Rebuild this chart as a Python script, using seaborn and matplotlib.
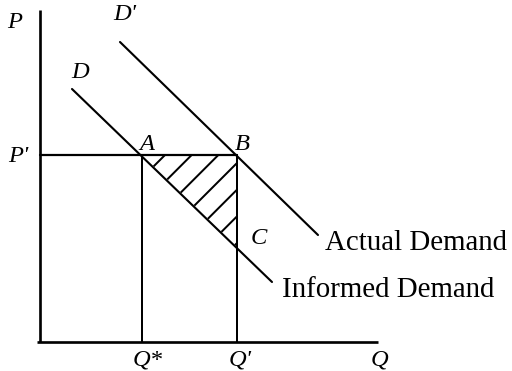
import matplotlib
matplotlib.use("Agg")
import matplotlib.pyplot as plt
import seaborn as sns
import pandas as pd
from matplotlib.patches import Polygon

# ---- data (Q, P coordinates of the diagram) ----
informed_q = [32, 232]
informed_p = [253, 60]
actual_q = [80, 278]
actual_p = [300, 107]
p_prime = 187
q_star = 102
q_prime = 197
slope = (informed_p[1] - informed_p[0]) / (informed_q[1] - informed_q[0])
p_c = p_prime + slope * (q_prime - q_star)

axis_q_max = 338
axis_p_max = 332

labels = ["P", "D'", "D", "P'", "A", "B", "C", "Q*", "Q'", "Q"]
label_q = [-25, 85, 40, -22, 107, 202, 219, 108, 200, 340]
label_p = [320, 327, 270, 185, 198, 198, 103, -18, -18, -18]

curve_names = ["Actual Demand", "Informed Demand"]
curve_label_q = [285, 242]
curve_label_p = [99, 52]

sns.set_theme(style="white")
plt.rcParams["font.family"] = ["Liberation Serif", "DejaVu Serif"]

fig = plt.figure(figsize=(6.4, 4.6375), dpi=80)
ax = fig.add_axes([0, 0, 1, 1])
ax.set_xlim(-40, 472)
ax.set_ylim(-29, 342)
ax.axis("off")

df = pd.DataFrame({
    "Q": informed_q + actual_q,
    "P": informed_p + actual_p,
    "curve": ["informed"] * 2 + ["actual"] * 2,
})
sns.lineplot(data=df, x="Q", y="P", units="curve", estimator=None,
             color="black", linewidth=1.9, ax=ax, legend=False)

# axes
ax.plot([0, 0], [0, axis_p_max], color="black", lw=2.4, solid_capstyle="butt")
ax.plot([-3, axis_q_max], [0, 0], color="black", lw=2.4, solid_capstyle="butt")

# P' horizontal and verticals
ax.plot([0, q_prime], [p_prime, p_prime], color="black", lw=2.0)
ax.plot([q_star, q_star], [0, p_prime], color="black", lw=1.8)
ax.plot([q_prime, q_prime], [0, p_prime], color="black", lw=1.8)

# hatched triangle ABC
plt.rcParams["hatch.linewidth"] = 1.8
tri = Polygon([(q_star, p_prime), (q_prime, p_prime), (q_prime, p_c)],
              closed=True, facecolor="none", edgecolor="black",
              hatch="/", linewidth=0)
ax.add_patch(tri)

for t, x, y in zip(labels, label_q, label_p):
    ax.text(x, y, t, fontsize=22, style="italic", ha="center", va="center",
            color="black")

for t, x, y in zip(curve_names, curve_label_q, curve_label_p):
    ax.text(x, y, t, fontsize=26, ha="left", va="center", color="black")

fig.savefig("out.png", dpi=80)
